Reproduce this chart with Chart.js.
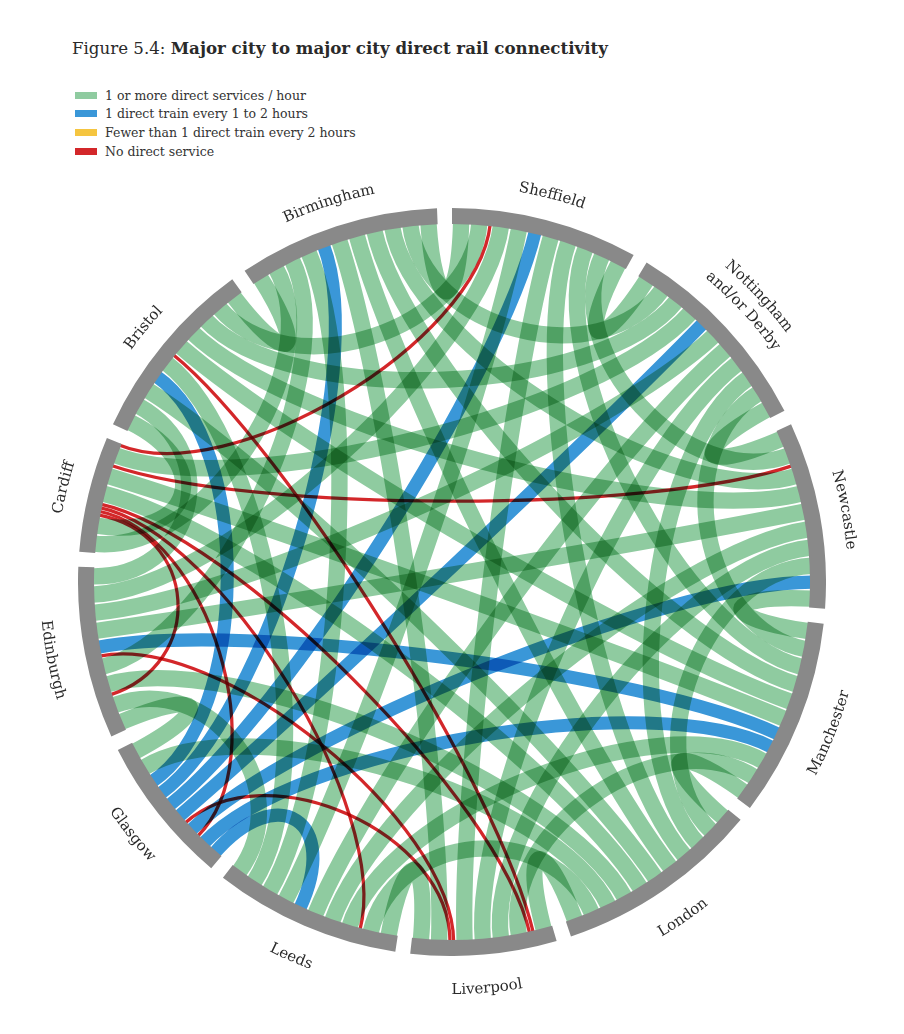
<!DOCTYPE html>
<html>
<head>
<meta charset="utf-8">
<script src="https://cdn.jsdelivr.net/npm/chart.js@4.4.0/dist/chart.umd.min.js"></script>
<style>
html,body{margin:0;padding:0;background:#fff;}
body{width:904px;height:1034px;position:relative;overflow:hidden;font-family:"DejaVu Serif",serif;color:#2a2a2a;}
#title{position:absolute;left:72px;top:40px;font-size:17px;line-height:1;white-space:nowrap;}
#title b{font-weight:bold;}
.row{position:absolute;left:75px;height:19px;display:flex;align-items:center;white-space:nowrap;font-size:12px;color:#333;}
.sw{width:22px;height:7px;margin-right:8px;flex:none;}
#wrap{position:absolute;left:78px;top:208px;width:748px;height:748px;}
#labels{position:absolute;left:0;top:0;width:904px;height:1034px;pointer-events:none;}
</style>
</head>
<body>
<div id="title"></div>
<div id="legend"></div>
<div id="wrap"><canvas id="c" width="748" height="748"></canvas></div>
<svg id="labels" xmlns="http://www.w3.org/2000/svg" width="904" height="1034"></svg>
<script>
// ---------------- DATA ----------------
const titleParts = ['Figure 5.4: ', 'Major city to major city direct rail connectivity'];

// cities, clockwise from the top
const cities = ['Sheffield', 'Nottingham and/or Derby', 'Newcastle', 'Manchester', 'London',
  'Liverpool', 'Leeds', 'Glasgow', 'Edinburgh', 'Cardiff', 'Bristol', 'Birmingham'];
const cityLabels = [['Sheffield'], ['Nottingham', 'and/or Derby'], ['Newcastle'], ['Manchester'], ['London'],
  ['Liverpool'], ['Leeds'], ['Glasgow'], ['Edinburgh'], ['Cardiff'], ['Bristol'], ['Birmingham']];

const levels = ['1 or more direct services / hour', '1 direct train every 1 to 2 hours',
  'Fewer than 1 direct train every 2 hours', 'No direct service'];

const ND = 'Nottingham and/or Derby';
// 1 or more direct services / hour
const hourlyLinks = [
  ['Sheffield', ND], ['Sheffield', 'Newcastle'], ['Sheffield', 'Manchester'], ['Sheffield', 'London'],
  ['Sheffield', 'Liverpool'], ['Sheffield', 'Leeds'], ['Sheffield', 'Edinburgh'], ['Sheffield', 'Bristol'],
  ['Sheffield', 'Birmingham'],
  [ND, 'Newcastle'], [ND, 'Manchester'], [ND, 'London'], [ND, 'Liverpool'], [ND, 'Leeds'],
  [ND, 'Edinburgh'], [ND, 'Cardiff'], [ND, 'Bristol'], [ND, 'Birmingham'],
  ['Newcastle', 'Manchester'], ['Newcastle', 'London'], ['Newcastle', 'Liverpool'], ['Newcastle', 'Leeds'],
  ['Newcastle', 'Edinburgh'], ['Newcastle', 'Bristol'], ['Newcastle', 'Birmingham'],
  ['Manchester', 'London'], ['Manchester', 'Liverpool'], ['Manchester', 'Leeds'], ['Manchester', 'Cardiff'],
  ['Manchester', 'Bristol'], ['Manchester', 'Birmingham'],
  ['London', 'Liverpool'], ['London', 'Leeds'], ['London', 'Glasgow'], ['London', 'Edinburgh'],
  ['London', 'Cardiff'], ['London', 'Bristol'], ['London', 'Birmingham'],
  ['Liverpool', 'Leeds'], ['Liverpool', 'Birmingham'],
  ['Leeds', 'Edinburgh'], ['Leeds', 'Bristol'], ['Leeds', 'Birmingham'],
  ['Glasgow', 'Edinburgh'],
  ['Edinburgh', 'Bristol'], ['Edinburgh', 'Birmingham'],
  ['Cardiff', 'Bristol'], ['Cardiff', 'Birmingham'],
  ['Bristol', 'Birmingham']
];
// 1 direct train every 1 to 2 hours
const oneToTwoHourLinks = [
  ['Sheffield', 'Glasgow'], [ND, 'Glasgow'], ['Newcastle', 'Glasgow'], ['Manchester', 'Glasgow'],
  ['Manchester', 'Edinburgh'], ['Leeds', 'Glasgow'], ['Bristol', 'Glasgow'], ['Birmingham', 'Glasgow']
];
// Fewer than 1 direct train every 2 hours
const sparseLinks = [];
// No direct service
const noDirectLinks = [
  ['Sheffield', 'Cardiff'], ['Newcastle', 'Cardiff'], ['Liverpool', 'Cardiff'], ['Leeds', 'Cardiff'],
  ['Glasgow', 'Cardiff'], ['Edinburgh', 'Cardiff'], ['Liverpool', 'Bristol'], ['Liverpool', 'Edinburgh'],
  ['Liverpool', 'Glasgow']
];

// order of the connections along each city's arc (clockwise)
const chordOrder = [
  ['Birmingham', 'Bristol', 'Cardiff', 'Edinburgh', 'Leeds', 'Glasgow', 'Liverpool', 'London', 'Manchester', 'Newcastle', ND],
  ['Sheffield', 'Birmingham', 'Bristol', 'Cardiff', 'Glasgow', 'Edinburgh', 'Leeds', 'Liverpool', 'London', 'Manchester', 'Newcastle'],
  [ND, 'Sheffield', 'Cardiff', 'Birmingham', 'Bristol', 'Edinburgh', 'Leeds', 'Liverpool', 'London', 'Glasgow', 'Manchester'],
  ['Newcastle', ND, 'Sheffield', 'Birmingham', 'Bristol', 'Cardiff', 'Edinburgh', 'Glasgow', 'Leeds', 'Liverpool', 'London'],
  ['Manchester', 'Newcastle', ND, 'Sheffield', 'Birmingham', 'Bristol', 'Cardiff', 'Edinburgh', 'Glasgow', 'Leeds', 'Liverpool'],
  ['London', 'Bristol', 'Cardiff', 'Manchester', 'Newcastle', ND, 'Sheffield', 'Edinburgh', 'Glasgow', 'Birmingham', 'Leeds'],
  ['Liverpool', 'London', 'Cardiff', 'Manchester', 'Newcastle', ND, 'Glasgow', 'Sheffield', 'Birmingham', 'Bristol', 'Edinburgh'],
  ['Leeds', 'Manchester', 'Cardiff', 'Newcastle', 'Liverpool', ND, 'Sheffield', 'Birmingham', 'Bristol', 'London', 'Edinburgh'],
  ['Glasgow', 'Leeds', 'Cardiff', 'London', 'Birmingham', 'Liverpool', 'Manchester', 'Newcastle', ND, 'Sheffield', 'Bristol'],
  ['Birmingham', 'Bristol', 'Edinburgh', 'Glasgow', 'Leeds', 'Liverpool', 'London', 'Manchester', 'Newcastle', ND, 'Sheffield'],
  ['Cardiff', 'Edinburgh', 'London', 'Glasgow', 'Leeds', 'Liverpool', 'Manchester', 'Newcastle', ND, 'Sheffield', 'Birmingham'],
  ['Bristol', 'Cardiff', 'Edinburgh', 'Leeds', 'Glasgow', 'Liverpool', 'London', 'Manchester', 'Newcastle', ND, 'Sheffield']
];

// ---------------- STYLE ----------------
const levelColors = ['#8fcba0', '#3a97d8', '#f5c540', '#d3272a'];
const levelWidths = [15, 12, 8, 3];
const ringColor = '#898989';
const GAP_DEG = 2.3;

// ---------------- BUILD ----------------
const links = [];
[hourlyLinks, oneToTwoHourLinks, sparseLinks, noDirectLinks].forEach((g, level) =>
  g.forEach(([a, b]) => links.push({a, b, level})));

const cityTotals = cities.map(c => links.filter(l => l.a === c || l.b === c)
  .reduce((s, l) => s + levelWidths[l.level], 0));
const grand = cityTotals.reduce((s, v) => s + v, 0);
const gapValue = grand * GAP_DEG / (360 - cities.length * GAP_DEG);

const ringData = [], ringColors = [], ringLabels = [];
cities.forEach((c, i) => {
  ringData.push(cityTotals[i]); ringColors.push(ringColor); ringLabels.push(c);
  ringData.push(gapValue); ringColors.push('rgba(0,0,0,0)'); ringLabels.push('');
});

const chordPlugin = {
  id: 'chords',
  beforeDatasetsDraw(chart) {
    const meta = chart.getDatasetMeta(0);
    const ctx = chart.ctx;
    const a0 = meta.data[0];
    const cx = a0.x, cy = a0.y, rIn = a0.innerRadius;
    const ends = links.map(() => ({}));
    cities.forEach((city, ci) => {
      const arc = meta.data[2 * ci];
      const span = arc.endAngle - arc.startAngle;
      const mine = [];
      links.forEach((l, li) => {
        if (l.a === city) mine.push({li, other: l.b});
        else if (l.b === city) mine.push({li, other: l.a});
      });
      const ord = chordOrder[ci];
      mine.sort((p, q) => ord.indexOf(p.other) - ord.indexOf(q.other));
      const total = mine.reduce((s, p) => s + levelWidths[links[p.li].level], 0);
      let acc = arc.startAngle;
      mine.forEach(p => {
        const da = span * levelWidths[links[p.li].level] / total;
        ends[p.li][city] = {ang: acc + da / 2, w: da * rIn};
        acc += da;
      });
    });
    ctx.save();
    ctx.globalCompositeOperation = 'multiply';
    ctx.lineCap = 'butt';
    [0, 1, 2, 3].forEach(level => {
      links.forEach((l, li) => {
        if (l.level !== level) return;
        const e1 = ends[li][l.a], e2 = ends[li][l.b];
        let sep = Math.abs(e1.ang - e2.ang) % (2 * Math.PI);
        if (sep > Math.PI) sep = 2 * Math.PI - sep;
        const k = 0.55 + 0.2 * (1 - sep / Math.PI);
        const r0 = rIn + 2;
        const p = (ang, r) => [cx + r * Math.cos(ang), cy + r * Math.sin(ang)];
        const P0 = p(e1.ang, r0), P1 = p(e1.ang, r0 * k), P2 = p(e2.ang, r0 * k), P3 = p(e2.ang, r0);
        ctx.beginPath();
        ctx.moveTo(P0[0], P0[1]);
        ctx.bezierCurveTo(P1[0], P1[1], P2[0], P2[1], P3[0], P3[1]);
        ctx.strokeStyle = levelColors[level];
        ctx.lineWidth = Math.min(e1.w, e2.w) * 0.9;
        ctx.stroke();
      });
    });
    ctx.restore();
  }
};

const chart = new Chart(document.getElementById('c'), {
  type: 'doughnut',
  data: {labels: ringLabels, datasets: [{data: ringData, backgroundColor: ringColors,
    borderWidth: 0, hoverOffset: 0, offset: 0, spacing: 0}]},
  options: {
    responsive: false, animation: false, events: [],
    cutout: 358, rotation: 0, circumference: 360,
    layout: {padding: 0},
    plugins: {legend: {display: false}, tooltip: {enabled: false}, title: {display: false}}
  },
  plugins: [chordPlugin]
});

// ---------------- TEXT ----------------
const titleEl = document.getElementById('title');
titleEl.innerHTML = '';
titleEl.appendChild(document.createTextNode(titleParts[0]));
const tb = document.createElement('b'); tb.textContent = titleParts[1]; titleEl.appendChild(tb);
(function fitTitle() {
  const w = titleEl.getBoundingClientRect().width;
  const fs = 17 * 536 / w;
  titleEl.style.fontSize = fs.toFixed(2) + 'px';
})();

const legendEl = document.getElementById('legend');
const rows = [];
levels.forEach((txt, i) => {
  const row = document.createElement('div');
  row.className = 'row';
  row.style.top = (85.5 + i * 18.8) + 'px';
  const sw = document.createElement('div'); sw.className = 'sw'; sw.style.background = levelColors[i];
  const sp = document.createElement('span'); sp.textContent = txt;
  row.appendChild(sw); row.appendChild(sp); legendEl.appendChild(row);
  rows.push(sp);
});
(function fitLegend() {
  const w = rows[0].getBoundingClientRect().width;
  const fs = 12 * 201 / w;
  document.querySelectorAll('.row').forEach(r => r.style.fontSize = fs.toFixed(2) + 'px');
})();

const svg = document.getElementById('labels');
const NS = 'http://www.w3.org/2000/svg';
const meta = chart.getDatasetMeta(0);
const offX = 78, offY = 208;
cities.forEach((city, ci) => {
  const arc = meta.data[2 * ci];
  const cx = offX + arc.x, cy = offY + arc.y;
  const mid = (arc.startAngle + arc.endAngle) / 2;
  let deg = ((mid + Math.PI / 2) * 180 / Math.PI) % 360; if (deg < 0) deg += 360;
  const bottom = deg > 90 && deg < 270;
  const lines = cityLabels[ci];
  lines.forEach((txt, li) => {
    const r = bottom ? 412 + li * 21 : 396 + (lines.length - 1 - li) * 21;
    const d = 0.7;
    const s = bottom ? mid + d : mid - d, e = bottom ? mid - d : mid + d;
    const x0 = cx + r * Math.cos(s), y0 = cy + r * Math.sin(s);
    const x1 = cx + r * Math.cos(e), y1 = cy + r * Math.sin(e);
    const path = document.createElementNS(NS, 'path');
    const id = 'lp' + ci + '_' + li;
    path.setAttribute('id', id);
    path.setAttribute('d', `M${x0.toFixed(2)},${y0.toFixed(2)} A${r},${r} 0 0 ${bottom ? 0 : 1} ${x1.toFixed(2)},${y1.toFixed(2)}`);
    path.setAttribute('fill', 'none');
    svg.appendChild(path);
    const t = document.createElementNS(NS, 'text');
    t.setAttribute('font-family', 'DejaVu Serif, serif');
    t.setAttribute('font-size', '15');
    t.setAttribute('fill', '#2a2a2a');
    const tp = document.createElementNS(NS, 'textPath');
    tp.setAttribute('href', '#' + id);
    tp.setAttribute('startOffset', '50%');
    tp.setAttribute('text-anchor', 'middle');
    tp.textContent = txt;
    t.appendChild(tp);
    svg.appendChild(t);
  });
});
</script>
</body>
</html>
